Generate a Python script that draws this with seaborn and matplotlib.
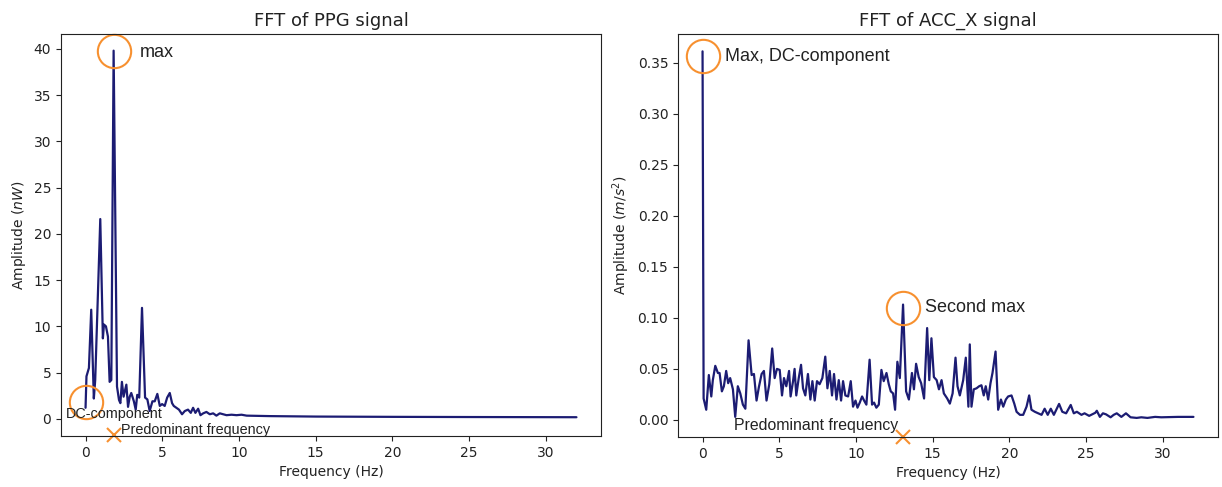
import numpy as np
import matplotlib
matplotlib.use("Agg")
import matplotlib.pyplot as plt
import seaborn as sns

# ---------------- data ----------------
ppg_freq = [0, 0.06, 0.22, 0.37, 0.54, 0.63, 0.96, 1.13, 1.2, 1.33, 1.46, 1.57, 1.68, 1.83,
            2.05, 2.18, 2.27, 2.37, 2.48, 2.66, 2.77, 2.88, 2.98, 3.15, 3.27, 3.37, 3.5, 3.68,
            3.88, 4.03, 4.18, 4.36, 4.51, 4.68, 4.84, 4.99, 5.16, 5.32, 5.49, 5.64, 5.75, 5.92,
            6.09, 6.29, 6.47, 6.68, 6.86, 7.01, 7.16, 7.34, 7.49, 7.67, 7.88, 8.1, 8.32, 8.53,
            8.75, 8.97, 9.19, 9.52, 9.84, 10.17, 10.5, 12, 15, 20, 25, 32]
ppg_amp = [1.2, 4.6, 5.5, 11.8, 2.2, 4.2, 21.6, 8.7, 10.2, 10.0, 8.9, 4.0, 4.2, 39.8,
           3.5, 2.05, 1.7, 4.0, 2.4, 3.7, 1.3, 2.4, 2.8, 1.9, 1.0, 2.6, 2.3, 12.0,
           2.3, 2.1, 0.85, 1.9, 1.9, 2.7, 1.4, 1.6, 1.4, 2.3, 2.8, 1.7, 1.4, 1.2,
           1.0, 0.5, 0.85, 1.0, 0.65, 1.2, 0.65, 1.1, 0.4, 0.6, 0.75, 0.5, 0.6, 0.35,
           0.6, 0.5, 0.4, 0.45, 0.4, 0.45, 0.35, 0.3, 0.25, 0.22, 0.2, 0.18]

acc_freq = [0, 0.07, 0.24, 0.41, 0.57, 0.67, 0.83, 1.0, 1.11, 1.26, 1.39, 1.54, 1.67, 1.8,
            1.98, 2.13, 2.3, 2.46, 2.63, 2.79, 3.0, 3.2, 3.35, 3.52, 3.67, 3.85, 4.0, 4.17,
            4.35, 4.54, 4.7, 4.85, 5.03, 5.18, 5.31, 5.46, 5.64, 5.74, 5.9, 6.0, 6.11, 6.27,
            6.42, 6.55, 6.7, 6.87, 7.03, 7.16, 7.31, 7.46, 7.63, 7.81, 8.0, 8.14, 8.29, 8.44,
            8.57, 8.73, 8.88, 9.03, 9.16, 9.31, 9.49, 9.66, 9.81, 9.97, 10.1, 10.25, 10.4,
            10.53, 10.68, 10.89, 11.05, 11.18, 11.33, 11.49, 11.66, 11.81, 11.99, 12.14,
            12.27, 12.42, 12.55, 12.7, 12.86, 13.07, 13.27, 13.45, 13.65, 13.78, 13.92,
            14.09, 14.25, 14.44, 14.64, 14.78, 14.92, 15.08, 15.26, 15.41, 15.58, 15.73,
            15.95, 16.12, 16.3, 16.49, 16.62, 16.77, 16.99, 17.16, 17.33, 17.42, 17.53,
            17.68, 17.86, 18.03, 18.18, 18.33, 18.46, 18.62, 18.77, 18.9, 19.1, 19.27,
            19.45, 19.6, 19.77, 19.92, 20.14, 20.32, 20.47, 20.69, 20.9, 21.12, 21.29,
            21.44, 21.66, 21.88, 22.1, 22.3, 22.5, 22.7, 22.9, 23.24, 23.45, 23.7, 24.0,
            24.2, 24.4, 24.7, 24.9, 25.2, 25.6, 25.7, 25.9, 26.1, 26.3, 26.6, 26.8, 27.0,
            27.3, 27.6, 27.9, 28.3, 28.6, 29.0, 29.5, 29.9, 31.0, 32.0]
acc_amp = [0.361, 0.021, 0.010, 0.044, 0.023, 0.039, 0.053, 0.046, 0.046, 0.028, 0.033, 0.048, 0.036, 0.041,
           0.030, 0.003, 0.033, 0.026, 0.015, 0.011, 0.078, 0.044, 0.045, 0.019, 0.032, 0.045, 0.048, 0.019,
           0.035, 0.070, 0.041, 0.050, 0.049, 0.024, 0.041, 0.033, 0.048, 0.023, 0.038, 0.050, 0.024, 0.041,
           0.054, 0.031, 0.024, 0.045, 0.020, 0.038, 0.019, 0.038, 0.035, 0.041, 0.062, 0.031, 0.048, 0.024,
           0.045, 0.020, 0.039, 0.019, 0.038, 0.024, 0.023, 0.038, 0.013, 0.019, 0.012, 0.017, 0.023,
           0.019, 0.015, 0.059, 0.015, 0.017, 0.012, 0.015, 0.049, 0.038, 0.046, 0.035,
           0.028, 0.026, 0.010, 0.057, 0.041, 0.113, 0.028, 0.020, 0.046, 0.030, 0.055,
           0.042, 0.036, 0.021, 0.090, 0.039, 0.080, 0.042, 0.039, 0.030, 0.039, 0.026,
           0.021, 0.016, 0.026, 0.061, 0.033, 0.024, 0.039, 0.061, 0.013, 0.074, 0.013,
           0.030, 0.031, 0.033, 0.034, 0.024, 0.033, 0.020, 0.036, 0.046, 0.067, 0.010,
           0.020, 0.013, 0.020, 0.023, 0.024, 0.016, 0.008, 0.005, 0.005, 0.013, 0.024,
           0.010, 0.008, 0.0065, 0.005, 0.011, 0.005, 0.011, 0.005, 0.0157, 0.008, 0.0065, 0.0147,
           0.0065, 0.008, 0.005, 0.0065, 0.004, 0.007, 0.009, 0.003, 0.0065, 0.0055, 0.0026, 0.005, 0.0065,
           0.003, 0.0065, 0.0026, 0.002, 0.0026, 0.002, 0.003, 0.0026, 0.003, 0.003]

titles = ["FFT of PPG signal", "FFT of ACC_X signal"]
ylabels = ["Amplitude ($nW$)", "Amplitude ($m/s^2$)"]
xlabel = "Frequency (Hz)"
x_ticks = [0, 5, 10, 15, 20, 25, 30]
ppg_yticks = [0, 5, 10, 15, 20, 25, 30, 35, 40]
acc_yticks = [0.00, 0.05, 0.10, 0.15, 0.20, 0.25, 0.30, 0.35]

# ---------------- style ----------------
sns.set_style("ticks")
plt.rcParams['font.family'] = ['DejaVu Sans']
plt.rcParams['axes.edgecolor'] = '#222222'
plt.rcParams['xtick.color'] = '#222222'
plt.rcParams['ytick.color'] = '#222222'
plt.rcParams['text.color'] = '#222222'
plt.rcParams['axes.labelcolor'] = '#222222'

LINE = '#1c1c73'
ORANGE = '#f7902f'
ANN_FONT = ['Liberation Sans', 'DejaVu Sans']

fig = plt.figure(figsize=(12.22, 4.87), dpi=100)
ax1 = fig.add_axes([61 / 1222, 51 / 487, 540 / 1222, 402 / 487])
ax2 = fig.add_axes([678 / 1222, 50 / 487, 540 / 1222, 403 / 487])

# ---------------- left panel: PPG ----------------
sns.lineplot(x=ppg_freq, y=ppg_amp, ax=ax1, color=LINE, linewidth=1.6)
ax1.set_xlim(-1.6, 33.6)
ax1.set_ylim(-1.85, 41.6)
ax1.set_xticks(x_ticks)
ax1.set_yticks(ppg_yticks)
ax1.set_title(titles[0], fontsize=13)
ax1.set_xlabel(xlabel, fontsize=10)
ax1.set_ylabel(ylabels[0], fontsize=10)
ax1.tick_params(labelsize=10)

pk = int(np.argmax(ppg_amp))
fx, fy = ppg_freq[pk], ppg_amp[pk]
ax1.plot([fx], [fy], marker='o', ms=24, mfc='none', mec=ORANGE, mew=1.5, clip_on=False)
ax1.annotate("max", (fx, fy), xytext=(19, -1), textcoords='offset points',
             ha='left', va='center', fontsize=13, family=ANN_FONT)
ax1.plot([ppg_freq[0]], [ppg_amp[0] + 0.6], marker='o', ms=24, mfc='none', mec=ORANGE,
         mew=1.5, clip_on=False)
ax1.annotate("DC-component", (ppg_freq[0], ppg_amp[0]), xytext=(-14.5, -4.5),
             textcoords='offset points', ha='left', va='center', fontsize=10.4, family=ANN_FONT)
ybot = ax1.get_ylim()[0]
ax1.plot([fx], [ybot + 0.1], marker='x', ms=10, mew=1.5, color=ORANGE, clip_on=False)
ax1.annotate("Predominant frequency", (fx, ybot), xytext=(5.5, 4.5),
             textcoords='offset points', ha='left', va='center', fontsize=10.4, family=ANN_FONT)

# ---------------- right panel: ACC_X ----------------
sns.lineplot(x=acc_freq, y=acc_amp, ax=ax2, color=LINE, linewidth=1.6)
ax2.set_xlim(-1.6, 33.6)
ax2.set_ylim(-0.0167, 0.378)
ax2.set_xticks(x_ticks)
ax2.set_yticks(acc_yticks)
ax2.set_title(titles[1], fontsize=13)
ax2.set_xlabel(xlabel, fontsize=10)
ax2.set_ylabel(ylabels[1], fontsize=10)
ax2.tick_params(labelsize=10)

ax2.plot([acc_freq[0]], [acc_amp[0] - 0.005], marker='o', ms=24, mfc='none', mec=ORANGE,
         mew=1.5, clip_on=False)
ax2.annotate("Max, DC-component", (acc_freq[0], acc_amp[0] - 0.005), xytext=(16.5, 0),
             textcoords='offset points', ha='left', va='center', fontsize=13, family=ANN_FONT)

# second max: largest peak beyond the DC bin
rest = np.array(acc_amp[1:])
k2 = int(np.argmax(rest)) + 1
sx, sy = acc_freq[k2], acc_amp[k2]
ax2.plot([sx], [sy - 0.003], marker='o', ms=24, mfc='none', mec=ORANGE, mew=1.5, clip_on=False)
ax2.annotate("Second max", (sx, sy - 0.003), xytext=(16, 0), textcoords='offset points',
             ha='left', va='center', fontsize=13, family=ANN_FONT)
ybot2 = ax2.get_ylim()[0]
ax2.plot([sx], [ybot2], marker='x', ms=10, mew=1.5, color=ORANGE, clip_on=False)
ax2.annotate("Predominant frequency", (sx, ybot2), xytext=(-3.5, 8.5),
             textcoords='offset points', ha='right', va='center', fontsize=11.4, family=ANN_FONT)

fig.savefig("out.png", dpi=100)
